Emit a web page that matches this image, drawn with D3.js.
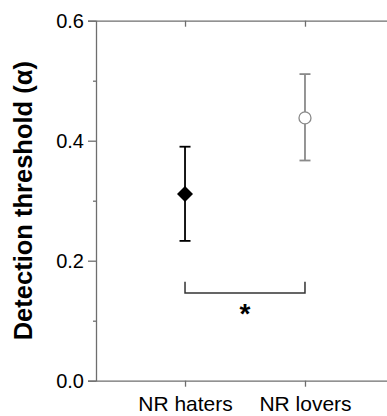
<!DOCTYPE html>
<html>
<head>
<meta charset="utf-8">
<script src="https://cdn.jsdelivr.net/npm/d3@7"></script>
<style>
  html, body { margin: 0; padding: 0; background: #fff; }
  svg { display: block; font-family: "Liberation Sans", Arial, Helvetica, sans-serif; }
</style>
</head>
<body>
<svg id="chart" width="387" height="416"></svg>
<script>
// ---- data ----
const categories = ["NR haters", "NR lovers"];
const means = [0.311, 0.438];
const upper = [0.390, 0.511];
const lower = [0.233, 0.367];
const majorTicks = [0.0, 0.2, 0.4, 0.6];
const minorTicks = [0.1, 0.3, 0.5];
const yLabel = "Detection threshold (\u03b1)";
const sigBracket = { from: "NR haters", to: "NR lovers", low: 0.146, high: 0.165, label: "*" };

(function () {
// ---- layout ----
const svg = d3.select("#chart");
const mLeft = 96, mRight = 394, mTop = 20.7, mBottom = 380.7;

const x = d3.scalePoint().domain(categories).range([mLeft, mRight]).padding(0.742);
const y = d3.scaleLinear().domain([0, 0.6]).range([mBottom, mTop]);

const axisColor = "#6e6e6e";

// left axis (major)
const gy = svg.append("g").attr("transform", `translate(${mLeft},0)`)
  .call(d3.axisLeft(y).tickValues(majorTicks).tickFormat(d3.format(".1f")).tickSize(8).tickPadding(4));
// minor
const gyMinor = svg.append("g").attr("transform", `translate(${mLeft},0)`)
  .call(d3.axisLeft(y).tickValues(minorTicks).tickFormat("").tickSize(3));
gyMinor.select(".domain").remove();

// bottom axis
const gx = svg.append("g").attr("transform", `translate(0,${mBottom})`)
  .call(d3.axisBottom(x).tickSize(6).tickPadding(10).tickSizeOuter(0));
// top axis (ticks inward)
const gt = svg.append("g").attr("transform", `translate(0,${mTop})`)
  .call(d3.axisBottom(x).tickSize(6).tickFormat("").tickSizeOuter(0));

[gy, gyMinor, gx, gt].forEach(g => {
  g.selectAll(".domain").attr("stroke", axisColor).attr("stroke-width", 1.3);
  g.selectAll(".tick line").attr("stroke", axisColor).attr("stroke-width", 1.3);
});
gy.selectAll(".tick text").attr("font-size", 20).attr("fill", "#000");
gx.selectAll(".tick text").attr("font-size", 21).attr("fill", "#000").attr("dy", "0.68em");

// y label
svg.append("text")
  .attr("transform", `translate(32,${(mTop + mBottom) / 2 + 0}) rotate(-90)`)
  .attr("text-anchor", "middle")
  .attr("font-size", 25.5)
  .attr("font-weight", "bold")
  .attr("fill", "#000")
  .text(yLabel);

// error bars
const colors = ["#000000", "#8a8a8a"];
const capW = 5.5;
categories.forEach((c, i) => {
  const g = svg.append("g").attr("stroke", colors[i]).attr("stroke-width", 1.8);
  g.append("line").attr("x1", x(c)).attr("x2", x(c)).attr("y1", y(lower[i])).attr("y2", y(upper[i]));
  g.append("line").attr("x1", x(c) - capW).attr("x2", x(c) + capW).attr("y1", y(lower[i])).attr("y2", y(lower[i]));
  g.append("line").attr("x1", x(c) - capW).attr("x2", x(c) + capW).attr("y1", y(upper[i])).attr("y2", y(upper[i]));
});

// markers
svg.append("path")
  .attr("d", d3.symbol().type(d3.symbolDiamond2).size(163)())
  .attr("transform", `translate(${x(categories[0])},${y(means[0])})`)
  .attr("fill", "#000");
svg.append("circle")
  .attr("cx", x(categories[1])).attr("cy", y(means[1])).attr("r", 6)
  .attr("fill", "#fff").attr("stroke", colors[1]).attr("stroke-width", 1.3);

// significance bracket
const bx1 = x(sigBracket.from), bx2 = x(sigBracket.to);
svg.append("path")
  .attr("d", `M${bx1},${y(sigBracket.high)}V${y(sigBracket.low)}H${bx2}V${y(sigBracket.high)}`)
  .attr("fill", "none").attr("stroke", "#333").attr("stroke-width", 1.5);
svg.append("text")
  .attr("x", (bx1 + bx2) / 2).attr("y", y(sigBracket.low) + 30)
  .attr("text-anchor", "middle")
  .attr("font-size", 28).attr("font-weight", "bold").attr("fill", "#000")
  .text(sigBracket.label);
})();
</script>
</body>
</html>
